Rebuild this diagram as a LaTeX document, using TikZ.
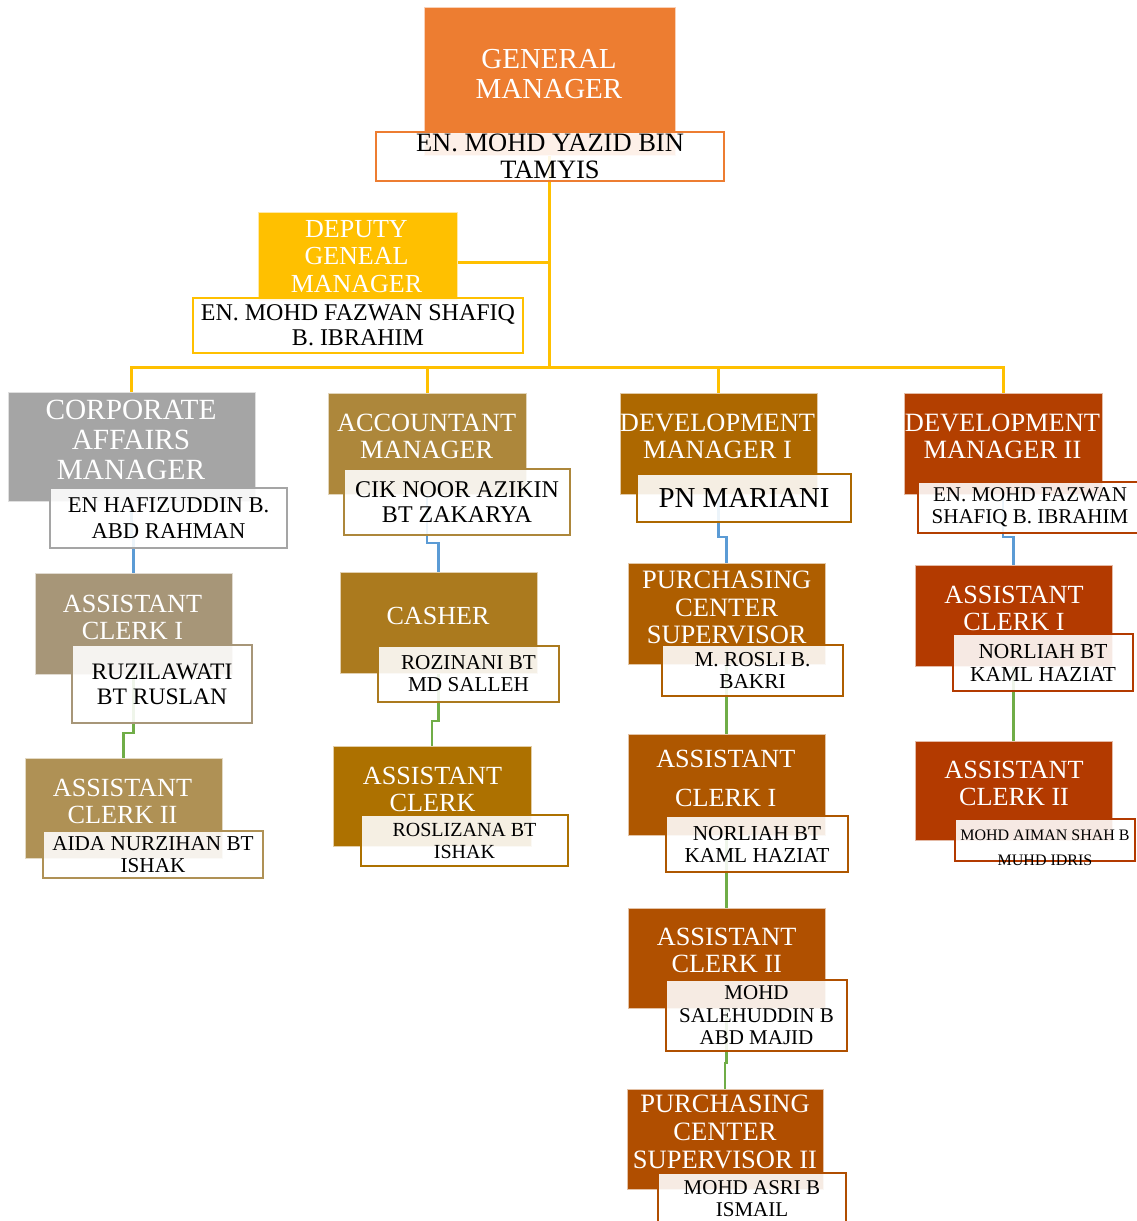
\documentclass[tikz,border=0pt]{standalone}
\usepackage{fontspec}
\setmainfont{Liberation Serif}
\usetikzlibrary{backgrounds}
\definecolor{cGM}{HTML}{ED7D31}
\definecolor{cDep}{HTML}{FFC000}
\definecolor{cCorp}{HTML}{A5A5A5}
\definecolor{cAcc}{HTML}{AD873B}
\definecolor{cDevA}{HTML}{AD6800}
\definecolor{cDevB}{HTML}{B33F00}
\definecolor{cCa}{HTML}{A79678}
\definecolor{cCb}{HTML}{AF9155}
\definecolor{cCas}{HTML}{AB7A1E}
\definecolor{cAc}{HTML}{AD7100}
\definecolor{cPa}{HTML}{AE5E00}
\definecolor{cPc}{HTML}{AE5700}
\definecolor{cPd}{HTML}{B05000}
\definecolor{cPe}{HTML}{B04E00}
\definecolor{cDd}{HTML}{B33A00}
\definecolor{lnY}{HTML}{FFC000}
\definecolor{lnB}{HTML}{5B9BD5}
\definecolor{lnG}{HTML}{70AD47}
\newcommand\fz[2]{\fontsize{#1}{#2}\selectfont}
\tikzset{
  cbox/.style={anchor=north west, inner sep=0pt, outer sep=0pt, fill=#1, draw=#1!35!white, line width=0.8pt},
  nbox/.style={anchor=north west, inner sep=0pt, outer sep=0pt, draw=#1, line width=2pt, fill=white, fill opacity=0.89, text opacity=1, align=center, text=black},
  ttl/.style={text=white, align=center, inner sep=0pt},
  nmtxt/.style={text=black, align=center, inner sep=0pt},
  yl/.style={draw=lnY, line width=3pt},
  bl/.style={draw=lnB, line width=2.6pt},
  gl/.style={draw=lnG, line width=2.6pt},
}
\begin{document}
\begin{tikzpicture}[x=1pt,y=-1pt]
\useasboundingbox (0,0) rectangle (1137,1221);
\clip (0,0) rectangle (1137,1221);
% ---------- colour boxes
\node[cbox=cGM, minimum width=251pt, minimum height=148pt] (gm) at (424,7) {};
\node[cbox=cDep, minimum width=199pt, minimum height=88pt] (dep) at (258,212) {};
\node[cbox=cCorp, minimum width=247pt, minimum height=109pt] (corp) at (8,392) {};
\node[cbox=cAcc, minimum width=198pt, minimum height=101pt] (acc) at (328,393) {};
\node[cbox=cDevA, minimum width=197pt, minimum height=101pt] (deva) at (620,393) {};
\node[cbox=cDevB, minimum width=198pt, minimum height=101pt] (devb) at (904,393) {};
\node[cbox=cCa, minimum width=197pt, minimum height=101pt] (ca) at (35,573) {};
\node[cbox=cCb, minimum width=197pt, minimum height=100pt] (cb) at (25,758) {};
\node[cbox=cCas, minimum width=197pt, minimum height=101pt] (cas) at (340,572) {};
\node[cbox=cAc, minimum width=198pt, minimum height=100pt] (ac) at (333,746) {};
\node[cbox=cPa, minimum width=197pt, minimum height=101pt] (pa) at (628,563) {};
\node[cbox=cPc, minimum width=197pt, minimum height=101pt] (pc) at (628,734) {};
\node[cbox=cPd, minimum width=197pt, minimum height=100pt] (pd) at (628,908) {};
\node[cbox=cPe, minimum width=196pt, minimum height=100pt] (pe) at (627,1089) {};
\node[cbox=cDd, minimum width=197pt, minimum height=101pt] (da) at (915,565) {};
\node[cbox=cDd, minimum width=197pt, minimum height=99pt] (db) at (915,741) {};
% ---------- titles
\node[ttl, font=\fz{29}{30}] (gmT) at (549,74.5) {GENERAL\\MANAGER};
\node[ttl, font=\fz{26}{27.5}] (depT) at (356.5,256.5) {DEPUTY\\GENEAL\\MANAGER};
\node[ttl, font=\fz{29.3}{30}] (corpT) at (131,440) {CORPORATE\\AFFAIRS\\MANAGER};
\node[ttl, font=\fz{26.3}{27}] (accT) at (426.7,436) {ACCOUNTANT\\MANAGER};
\node[ttl, font=\fz{26.4}{27}] (devaT) at (717.5,436) {DEVELOPMENT\\MANAGER I};
\node[ttl, font=\fz{26.4}{27}] (devbT) at (1002.5,436) {DEVELOPMENT\\MANAGER II};
\node[ttl, font=\fz{26.2}{27}] (caT) at (132.5,617) {ASSISTANT\\CLERK I};
\node[ttl, font=\fz{26.2}{27}] (cbT) at (122.5,801.5) {ASSISTANT\\CLERK II};
\node[ttl, font=\fz{26.1}{27}] (casT) at (438,615.5) {CASHER};
\node[ttl, font=\fz{26.2}{27}] (acT) at (432.5,789.5) {ASSISTANT\\CLERK};
\node[ttl, font=\fz{26.5}{27.5}] (paT) at (726.7,607.5) {PURCHASING\\CENTER\\SUPERVISOR};
\node[ttl, font=\fz{26.2}{39}] (pcT) at (725.8,778.5) {ASSISTANT\\CLERK I};
\node[ttl, font=\fz{26.3}{27}] (pdT) at (726.7,950.5) {ASSISTANT\\CLERK II};
\node[ttl, font=\fz{26.5}{28}] (peT) at (725,1132) {PURCHASING\\CENTER\\SUPERVISOR II};
\node[ttl, font=\fz{26.2}{27}] (daT) at (1014,608.5) {ASSISTANT\\CLERK I};
\node[ttl, font=\fz{26.2}{27}] (dbT) at (1014,783) {ASSISTANT\\CLERK II};
% ---------- name boxes
\node[nbox=cGM, minimum width=348pt, minimum height=49pt, font=\fz{26.5}{27}] (gmN) at (376,132) {EN. MOHD YAZID BIN\\TAMYIS};
\node[nbox=cDep, minimum width=330pt, minimum height=55pt, font=\fz{24}{25}] (depN) at (193,298) {EN. MOHD FAZWAN SHAFIQ\\B. IBRAHIM};
\node[nbox=cCorp, minimum width=237pt, minimum height=60pt, font=\fz{22.6}{26}] (corpN) at (50,488) {EN HAFIZUDDIN B.\\ABD RAHMAN};
\node[nbox=cAcc, minimum width=226pt, minimum height=66pt, font=\fz{24}{25}] (accN) at (344,469) {CIK NOOR AZIKIN\\BT ZAKARYA};
\node[nbox=cDevA, minimum width=214pt, minimum height=48pt, font=\fz{28.9}{30}] (devaN) at (637,474) {PN MARIANI};
\node[nbox=cDevB, minimum width=224pt, minimum height=51pt, font=\fz{21}{22}] (devbN) at (918,482) {EN. MOHD FAZWAN\\SHAFIQ B. IBRAHIM};
\node[nbox=cCa, minimum width=180pt, minimum height=78pt, font=\fz{23.6}{25}] (caN) at (72,645) {RUZILAWATI\\BT RUSLAN};
\node[nbox=cCb, minimum width=220pt, minimum height=47pt, font=\fz{21.2}{22}] (cbN) at (43,831) {AIDA NURZIHAN BT\\ISHAK};
\node[nbox=cCas, minimum width=181pt, minimum height=56pt, font=\fz{21.2}{22}] (casN) at (378,646) {ROZINANI BT\\MD SALLEH};
\node[nbox=cAc, minimum width=207pt, minimum height=51pt, font=\fz{20}{22}] (acN) at (361,815) {ROSLIZANA BT\\ISHAK};
\node[nbox=cPa, minimum width=181pt, minimum height=51pt, font=\fz{21.3}{22}] (paN) at (662,645) {M. ROSLI B.\\BAKRI};
\node[nbox=cPc, minimum width=182pt, minimum height=56pt, font=\fz{21.3}{22}] (pcN) at (666,816) {NORLIAH BT\\KAML HAZIAT};
\node[nbox=cPd, minimum width=181pt, minimum height=71pt, font=\fz{21}{22.5}] (pdN) at (666,980) {MOHD\\SALEHUDDIN B\\ABD MAJID};
\node[nbox=cPe, minimum width=188pt, minimum height=51pt, font=\fz{21}{22}] (peN) at (658,1173) {MOHD ASRI B\\ISMAIL};
\node[nbox=cDd, minimum width=180pt, minimum height=57pt, font=\fz{21.4}{23}] (daN) at (953,634) {NORLIAH BT\\KAML HAZIAT};
\node[nbox=cDd, minimum width=180pt, minimum height=42pt] (dbN) at (955,819) {};
\node[nmtxt, font=\fz{16}{25}] (dbNT) at (1045,848) {MOHD AIMAN SHAH B\\MUHD IDRIS};
% ---------- connectors (behind)
\begin{scope}[on background layer]
\fill[white] (0,0) rectangle (1137,1221);
\draw[yl] (gm.south) -- ++(0,212) -| (corp.north);
\draw[yl] (gm.south) -- ++(0,212) -| (acc.north);
\draw[yl] (gm.south) -- ++(0,212) -| (deva.north);
\draw[yl] (gm.south) -- ++(0,212) -| (devb.north);
\draw[yl] ([yshift=-6pt]dep.east) -| (gm.south);
\draw[bl] (corp.south) -- ++(0,35) -| (ca.north);
\draw[bl] (acc.south) -- ++(0,49) -| (cas.north);
\draw[bl] (deva.south) -- ++(0,43) -| (pa.north);
\draw[bl] (devb.south) -- ++(0,43) -| (da.north);
\draw[gl] (ca.south) -- ++(0,59) -| (cb.north);
\draw[gl] (cas.south) -- ++(0,48) -| (ac.north);
\draw[gl] (pa.south) -- (pc.north);
\draw[gl] (pc.south) -- (pd.north);
\draw[gl] (pd.south) -- ++(0,55) -| (pe.north);
\draw[gl] (da.south) -- (db.north);
\end{scope}
\end{tikzpicture}
\end{document}
